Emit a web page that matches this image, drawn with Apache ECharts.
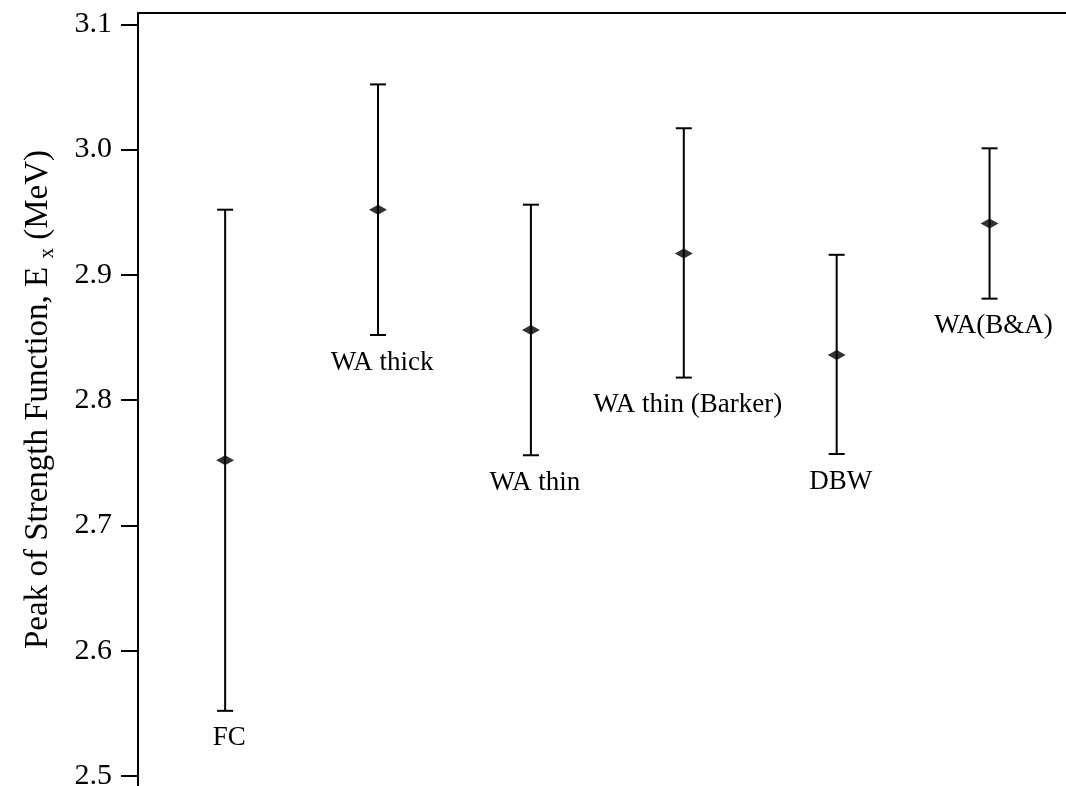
<!DOCTYPE html>
<html>
<head>
<meta charset="utf-8">
<script src="https://cdn.jsdelivr.net/npm/echarts@6/dist/echarts.min.js"></script>
<style>
html,body{margin:0;padding:0;background:#fff;overflow:hidden;}
#chart{width:1066px;height:786px;}
</style>
</head>
<body>
<div id="chart"></div>
<script>
var categories = ['FC', 'WA thick', 'WA thin', 'WA thin (Barker)', 'DBW', 'WA(B&A)'];
var centers = [2.752, 2.952, 2.856, 2.917, 2.836, 2.941];
var lows = [2.552, 2.852, 2.756, 2.818, 2.757, 2.881];
var highs = [2.952, 3.052, 2.956, 3.017, 2.916, 3.001];
var yTicks = [2.5, 2.6, 2.7, 2.8, 2.9, 3.0, 3.1];

var FONT = '"Liberation Serif", "DejaVu Serif", serif';

var errData = categories.map(function (c, i) { return [i, lows[i], highs[i]]; });
var ptData = categories.map(function (c, i) { return [i, centers[i]]; });

var chart = echarts.init(document.getElementById('chart'), null, {renderer: 'canvas'});
chart.setOption({
  animation: false,
  backgroundColor: '#ffffff',
  grid: {left: 138, right: 0, top: 13, bottom: 0, containLabel: false, outerBoundsMode: 'none'},
  xAxis: {
    type: 'value',
    position: 'top',
    min: -0.57,
    max: 5.5,
    axisLine: {show: true, lineStyle: {color: '#000', width: 2}},
    axisTick: {show: false},
    axisLabel: {show: false},
    splitLine: {show: false}
  },
  yAxis: {
    type: 'value',
    min: 2.492,
    max: 3.109,
    name: 'Peak of Strength Function, E {sub|x} (MeV)',
    nameLocation: 'middle',
    nameGap: 80,
    nameTextStyle: {
      fontFamily: FONT, fontSize: 33, color: '#000', lineHeight: 40,
      rich: {sub: {fontFamily: FONT, fontSize: 21, color: '#000', lineHeight: 21, padding: [21, 0, 0, 0], verticalAlign: 'bottom'}}
    },
    axisLine: {show: true, onZero: false, lineStyle: {color: '#000', width: 2}},
    axisTick: {show: true, inside: false, length: 17, lineStyle: {color: '#000', width: 2}, customValues: yTicks},
    axisLabel: {
      show: true, margin: 26, fontFamily: FONT, fontSize: 30, color: '#000',
      customValues: yTicks,
      formatter: function (v) { return Number(v).toFixed(1); }
    },
    splitLine: {show: false}
  },
  series: [
    {
      type: 'custom',
      data: errData,
      renderItem: function (params, api) {
        var x = api.value(0);
        var lo = api.coord([x, api.value(1)]);
        var hi = api.coord([x, api.value(2)]);
        var cap = 8;
        var st = {stroke: '#000', lineWidth: 2};
        return {
          type: 'group',
          children: [
            {type: 'line', shape: {x1: lo[0], y1: lo[1], x2: hi[0], y2: hi[1]}, style: st},
            {type: 'line', shape: {x1: lo[0] - cap, y1: lo[1], x2: lo[0] + cap, y2: lo[1]}, style: st},
            {type: 'line', shape: {x1: hi[0] - cap, y1: hi[1], x2: hi[0] + cap, y2: hi[1]}, style: st},
            {type: 'text', x: lo[0] + 4, y: lo[1] + 14,
              style: {text: categories[params.dataIndex], fill: '#000', font: '27px ' + FONT, align: 'center', verticalAlign: 'top'}}
          ]
        };
      },
      z: 2
    },
    {
      type: 'scatter',
      data: ptData,
      symbol: 'diamond',
      symbolSize: [18, 10],
      itemStyle: {color: '#000'},
      z: 3
    }
  ]
});
</script>
</body>
</html>
